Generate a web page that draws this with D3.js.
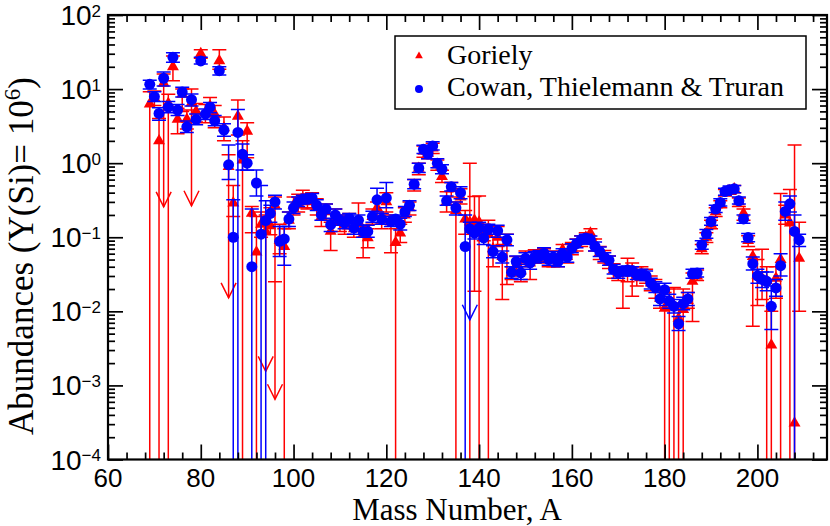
<!DOCTYPE html>
<html><head><meta charset="utf-8">
<script src="https://cdn.jsdelivr.net/npm/d3@7"></script>
<style>body{margin:0;background:#fff} svg{display:block}</style>
</head><body><svg id="c" width="830" height="526"></svg>
<script>
// Goriely (red triangles): mass number, abundance, lower / upper error bounds (0 = runs off the axis)
const redA=[69,70,71,72,73,74,75,76,77,78,79,80,81,82,83,84,85,86,87,88,89,90,91,92,93,94,95,96,97,98,99,100,101,102,103,104,105,106,107,108,109,110,111,112,113,114,115,116,117,118,119,120,121,122,123,124,125,126,127,128,129,130,131,132,133,134,135,136,137,138,139,140,141,142,143,144,145,146,147,148,149,150,151,152,153,154,155,156,157,158,159,160,161,162,163,164,165,166,167,168,169,170,171,172,173,174,175,176,177,178,179,180,181,182,183,184,185,186,187,188,189,190,191,192,193,194,195,196,197,198,199,200,201,202,203,204,205,206,207,208,209];
const redV=[6.3,7.6,2.0,12,6.4,20,3.9,8.5,3.9,6.5,5.0,30,4.8,5.9,4.6,24,3.0,0.9,0.29,4.3,1.1,2.7,0.21,0.063,0.15,0.12,0.143,0.27,0.09,0.075,0.17,0.27,0.3,0.33,0.3,0.32,0.26,0.19,0.22,0.12,0.19,0.16,0.15,0.17,0.13,0.16,0.11,0.098,0.19,0.25,0.17,0.3,0.16,0.085,0.114,0.2,0.25,0.5,0.85,1.45,1.36,1.6,0.95,0.66,0.3,0.45,0.23,0.35,0.176,0.16,0.17,0.16,0.12,0.11,0.07,0.1,0.055,0.085,0.033,0.042,0.035,0.05,0.045,0.055,0.055,0.058,0.05,0.052,0.05,0.068,0.055,0.07,0.08,0.09,0.1,0.114,0.08,0.062,0.055,0.047,0.036,0.033,0.033,0.036,0.035,0.031,0.032,0.03,0.024,0.021,0.015,0.011,0.013,0.012,0.008,0.0106,0.014,0.0254,0.03,0.07,0.1,0.15,0.22,0.28,0.4,0.42,0.45,0.3,0.21,0.09,0.055,0.031,0.028,0.026,0.0035,0.028,0.05,0.2,0.155,0.00031,0.052];
const redLo=[0,6.0,0,12,0,13,2.5,5.0,2.9,6.5,3.6,26,3.5,4.5,3.0,18.5,2.0,0.9,0.19,2.4,0,1.18,0.115,0,0.1,0.12,0.108,0.025,0.06,0,0.13,0.2,0.22,0.25,0.24,0.25,0.2,0.14,0.17,0.066,0.15,0.12,0.11,0.13,0.1,0.12,0.053,0.072,0.15,0.19,0.13,0.22,0.062,0,0.085,0.16,0.2,0.42,0.7,1.2,1.15,1.35,0.8,0.55,0.22,0.35,0,0.28,0.11,0,0.0186,0,0.09,0,0.04,0.075,0.0144,0.023,0.027,0.03,0.025,0.04,0.027,0.045,0.045,0.047,0.04,0.04,0.04,0.055,0.045,0.058,0.065,0.075,0.085,0.095,0.065,0.05,0.045,0.038,0.028,0.026,0.011,0.025,0.016,0.022,0.026,0.024,0.019,0.015,0.011,0,0,0,0,0,0.011,0.0073,0.026,0.06,0.085,0.13,0.19,0.25,0.36,0.38,0.4,0.26,0.17,0.075,0.0063,0.012,0.0144,0,0,0.015,0,0.15,0,0,0.01];
const redHi=[9.2,9.4,4.0,16,8.5,28,5.5,10,5.2,10,6.4,34,6.2,7.7,6.0,34,4.2,1.3,0.5,7.1,2.0,3.5,0.26,0.19,0.22,0.2,0.25,0.35,0.15,0.13,0.22,0.35,0.38,0.43,0.38,0.4,0.33,0.24,0.28,0.16,0.24,0.2,0.19,0.21,0.16,0.29,0.14,0.13,0.24,0.3,0.21,0.4,0.2,0.13,0.15,0.25,0.3,0.6,1.0,1.7,1.6,1.85,1.1,0.8,0.41,0.55,0.3,0.45,0.23,1.0,0.355,0.36,0.15,0.17,0.1,0.14,0.08,0.11,0.04,0.055,0.045,0.065,0.055,0.068,0.068,0.07,0.06,0.065,0.06,0.08,0.068,0.085,0.095,0.105,0.115,0.13,0.095,0.075,0.066,0.056,0.044,0.04,0.04,0.052,0.045,0.04,0.04,0.037,0.03,0.027,0.02,0.018,0.02,0.021,0.013,0.02,0.018,0.033,0.036,0.08,0.115,0.17,0.25,0.31,0.44,0.47,0.5,0.34,0.24,0.105,0.068,0.05,0.069,0.04,0.01,0.04,0.39,0.27,0.44,1.76,0.16];
const redArrowA=[72,78,86,94,96];
const redArrowTip=[0.257,0.266,0.0152,0.00155,0.00065];

// Cowan, Thielemann & Truran (blue circles)
const blueA=[69,70,71,72,73,74,75,76,77,78,79,80,81,82,83,84,85,86,87,88,89,90,91,92,93,94,95,96,97,98,99,100,101,102,103,104,105,106,107,108,109,110,111,112,113,114,115,116,117,118,119,120,121,122,123,124,125,126,127,128,129,130,131,132,133,134,135,136,137,138,139,140,141,142,143,144,145,146,147,148,149,150,151,152,153,154,155,156,157,158,159,160,161,162,163,164,165,166,167,168,169,170,171,172,173,174,175,176,177,178,179,180,181,182,183,184,185,186,187,188,189,190,191,192,193,194,195,196,197,198,199,200,201,202,203,204,205,206,207,208,209];
const blueV=[11.6,7.9,4.7,14,5.7,26.8,5.2,9.1,3.1,7.2,3.9,24,4.6,5.7,3.75,17.7,2.8,0.95,0.1,2.6,1.32,1.0,0.04,0.54,0.11,0.168,0.21,0.30,0.088,0.095,0.176,0.25,0.30,0.32,0.33,0.34,0.27,0.20,0.24,0.148,0.20,0.17,0.155,0.18,0.133,0.17,0.12,0.12,0.19,0.32,0.176,0.34,0.163,0.176,0.15,0.22,0.27,0.52,0.86,1.54,1.33,1.71,1.0,0.83,0.31,0.48,0.25,0.40,0.075,0.13,0.114,0.133,0.098,0.129,0.064,0.122,0.054,0.092,0.0336,0.047,0.033,0.052,0.045,0.054,0.055,0.061,0.05,0.054,0.047,0.06,0.054,0.071,0.082,0.092,0.098,0.092,0.075,0.064,0.054,0.049,0.037,0.033,0.035,0.036,0.035,0.031,0.032,0.030,0.024,0.021,0.0147,0.0196,0.0137,0.0117,0.0068,0.0127,0.0147,0.032,0.033,0.079,0.111,0.163,0.24,0.295,0.414,0.437,0.45,0.31,0.177,0.099,0.044,0.030,0.027,0.0254,0.0117,0.0207,0.0413,0.223,0.283,0.12,0.092];
const blueLo=[10.0,6.8,3.8,11,4.8,23,4.4,7.8,2.6,5.9,3.3,21.8,3.9,4.8,3.2,15.5,2.3,0.6,0,0,0.81,0.8,0,0.36,0,0,0.16,0.24,0.055,0.042,0.14,0.21,0.26,0.28,0.29,0.30,0.23,0.17,0.21,0.12,0.17,0.145,0.13,0.155,0.11,0.145,0.10,0.10,0.16,0.22,0.15,0.25,0.14,0.15,0.125,0.19,0.23,0.45,0.75,1.35,1.15,1.5,0.87,0.72,0.27,0.42,0.2,0.33,0,0.13,0.095,0.11,0.08,0.11,0.053,0.10,0.045,0.077,0.028,0.039,0.027,0.043,0.037,0.045,0.046,0.051,0.042,0.045,0.04,0.05,0.046,0.062,0.072,0.081,0.087,0.081,0.065,0.055,0.047,0.042,0.032,0.028,0.03,0.031,0.03,0.027,0.027,0.026,0.02,0.018,0.012,0.016,0.011,0.0095,0.0055,0.0105,0.012,0.028,0.029,0.069,0.097,0.145,0.215,0.265,0.37,0.39,0.40,0.28,0.155,0.087,0.036,0.024,0.021,0.019,0.0057,0.016,0.03,0.17,0.22,0,0.075];
const blueHi=[13.2,9.2,5.6,17,6.8,31,6.2,10.6,3.7,8.6,4.6,26.8,5.4,6.6,4.4,20,3.4,1.76,0.32,5.3,1.82,1.3,0.24,0.81,0.5,0.31,0.27,0.37,0.14,0.14,0.22,0.30,0.35,0.37,0.38,0.39,0.32,0.24,0.28,0.18,0.24,0.2,0.18,0.21,0.16,0.2,0.145,0.145,0.225,0.46,0.21,0.55,0.19,0.2,0.18,0.26,0.31,0.6,1.0,1.75,1.5,1.95,1.15,0.95,0.36,0.55,0.3,0.48,0.2,0.16,0.135,0.16,0.12,0.15,0.077,0.145,0.065,0.11,0.04,0.056,0.04,0.062,0.054,0.064,0.066,0.072,0.06,0.064,0.056,0.07,0.063,0.082,0.094,0.104,0.11,0.104,0.086,0.074,0.062,0.056,0.043,0.038,0.04,0.041,0.04,0.036,0.037,0.035,0.028,0.025,0.018,0.024,0.017,0.0145,0.0085,0.0155,0.018,0.037,0.038,0.09,0.127,0.185,0.27,0.33,0.46,0.49,0.50,0.35,0.2,0.112,0.054,0.037,0.034,0.034,0.022,0.027,0.06,0.3,0.36,0.2,0.11];
const blueArrowA=[138];
const blueArrowTip=[0.0077];

const xTicks=[60,80,100,120,140,160,180,200];
const yExps=[-4,-3,-2,-1,0,1,2];
const legendLabels=["Goriely","Cowan, Thielemann & Truran"];
const xTitle="Mass Number, A";

const W=830,H=526,L=108,R=827,T=15,B=459.5;
const svg=d3.select("#c");
const x=d3.scaleLinear().domain([60,215]).range([L,R]);
const y=d3.scaleLog().domain([1e-4,100]).range([B,T]);

svg.append("defs").append("clipPath").attr("id","clip").append("rect")
  .attr("x",L).attr("y",T).attr("width",R-L).attr("height",B-T);

const RED="#ff0000",BLUE="#0000ff";
const capW=7;
function drawSeries(A,V,Lo,Hi,arA,arTip,color){
  const g=svg.append("g").attr("clip-path","url(#clip)")
    .attr("stroke",color).attr("stroke-width",1.5).attr("fill","none");
  A.forEach((a,i)=>{
    const px=x(a);
    const yHi=y(Hi[i]);
    const lo=Lo[i];
    const yLo= lo>0 ? y(lo) : B+5;
    g.append("line").attr("x1",px).attr("x2",px).attr("y1",yHi).attr("y2",yLo);
    g.append("line").attr("x1",px-capW).attr("x2",px+capW).attr("y1",yHi).attr("y2",yHi);
    if(lo>0 && lo<V[i]) g.append("line").attr("x1",px-capW).attr("x2",px+capW).attr("y1",yLo).attr("y2",yLo);
  });
  arA.forEach((a,k)=>{
    const i=A.indexOf(a);
    const px=x(a), y0=y(Lo[i]), yt=y(arTip[k]);
    g.append("line").attr("x1",px).attr("x2",px).attr("y1",y0).attr("y2",yt);
    g.append("path").attr("d",`M${px-7.5},${yt-15}L${px},${yt}L${px+7.5},${yt-15}`);
  });
}
function drawMarks(A,V,type,color){
  const g=svg.append("g").attr("clip-path","url(#clip)");
  const sym=d3.symbol().type(type).size(type===d3.symbolCircle?95:62);
  A.forEach((a,i)=>{
    g.append("path").attr("d",sym()).attr("fill",color)
      .attr("transform",`translate(${x(a)},${y(V[i])})`);
  });
}
drawSeries(redA,redV,redLo,redHi,redArrowA,redArrowTip,RED);
drawMarks(redA,redV,d3.symbolTriangle,RED);
drawSeries(blueA,blueV,blueLo,blueHi,blueArrowA,blueArrowTip,BLUE);
drawMarks(blueA,blueV,d3.symbolCircle,BLUE);

// axes
const xMinor=d3.range(60,216,4).filter(v=>!xTicks.includes(v));
const yMajor=yExps.map(e=>Math.pow(10,e));
const yMinor=[];
yExps.slice(0,-1).forEach(e=>{for(let m=2;m<=9;m++)yMinor.push(m*Math.pow(10,e));});
function styl(g){g.select(".domain").remove();g.selectAll(".tick line").attr("stroke","#000").attr("stroke-width",1.7);g.selectAll("text").remove();}
svg.append("g").attr("transform",`translate(0,${B})`).call(d3.axisBottom(x).tickValues(xTicks).tickSize(-15)).call(styl);
svg.append("g").attr("transform",`translate(0,${B})`).call(d3.axisBottom(x).tickValues(xMinor).tickSize(-7)).call(styl);
svg.append("g").attr("transform",`translate(0,${T})`).call(d3.axisTop(x).tickValues(xTicks).tickSize(-15)).call(styl);
svg.append("g").attr("transform",`translate(0,${T})`).call(d3.axisTop(x).tickValues(xMinor).tickSize(-7)).call(styl);
svg.append("g").attr("transform",`translate(${L},0)`).call(d3.axisLeft(y).tickValues(yMajor).tickSize(-15)).call(styl);
svg.append("g").attr("transform",`translate(${L},0)`).call(d3.axisLeft(y).tickValues(yMinor).tickSize(-7)).call(styl);
svg.append("g").attr("transform",`translate(${R},0)`).call(d3.axisRight(y).tickValues(yMajor).tickSize(-15)).call(styl);
svg.append("g").attr("transform",`translate(${R},0)`).call(d3.axisRight(y).tickValues(yMinor).tickSize(-7)).call(styl);

svg.append("rect").attr("x",L).attr("y",T).attr("width",R-L).attr("height",B-T)
  .attr("fill","none").attr("stroke","#000").attr("stroke-width",2.2);

const sans="'Liberation Sans', Arial, Helvetica, sans-serif";
const serif="'Liberation Serif', 'Times New Roman', serif";
xTicks.forEach(v=>{
  svg.append("text").attr("x",x(v)).attr("y",B+27).attr("text-anchor","middle")
    .attr("font-family",sans).attr("font-size",26).text(v);
});
yExps.forEach(e=>{
  const t=svg.append("text").attr("x",101).attr("y",y(Math.pow(10,e))+10).attr("text-anchor","end")
    .attr("font-family",sans).attr("font-size",28);
  t.append("tspan").text("10");
  t.append("tspan").attr("dy",-8.5).attr("font-size",17).text(e<0?"\u2212"+(-e):String(e));
});
svg.append("text").attr("x",457).attr("y",519.5).attr("text-anchor","middle")
  .attr("font-family",serif).attr("font-size",31).text(xTitle);
const yt=svg.append("text").attr("transform","translate(33,256) rotate(-90)").attr("text-anchor","middle")
  .attr("font-family",serif).attr("font-size",35);
yt.append("tspan").text("Abundances (Y(Si)= 10");
yt.append("tspan").attr("dy",-13).attr("font-size",23).text("6");
yt.append("tspan").attr("dy",13).text(")");

// legend
svg.append("rect").attr("x",395).attr("y",36).attr("width",411).attr("height",73)
  .attr("fill","#fff").attr("stroke","#000").attr("stroke-width",1.5);
svg.append("path").attr("d",d3.symbol().type(d3.symbolTriangle).size(26)()).attr("fill",RED)
  .attr("transform","translate(419,56)");
svg.append("path").attr("d",d3.symbol().type(d3.symbolCircle).size(50)()).attr("fill",BLUE)
  .attr("transform","translate(419,89)");
legendLabels.forEach((s,i)=>{
  svg.append("text").attr("x",447).attr("y",63.5+i*32).attr("font-family",serif)
    .attr("font-size",28).text(s);
});
</script></body></html>
